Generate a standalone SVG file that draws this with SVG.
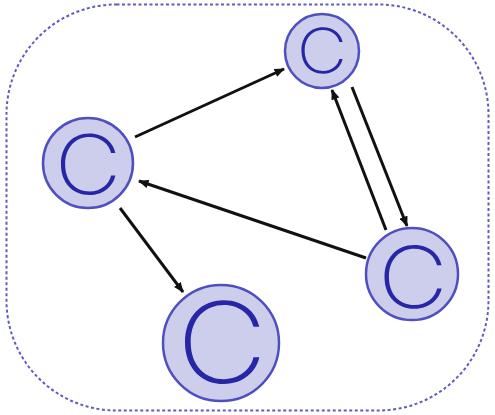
<svg xmlns="http://www.w3.org/2000/svg" width="495" height="415" viewBox="0 0 495 415">
<style>
.node circle{fill:#cdcdec;stroke:#4f4fc0;stroke-width:2.5}
.node text{font-family:Inter,Roboto,"Liberation Sans",sans-serif;font-weight:200;fill:#2626a6;text-anchor:middle}
.conn line{stroke:#111;stroke-width:3;marker-end:url(#ah)}
</style>
<defs>
<marker id="ah" viewBox="0 0 10 8" refX="9" refY="4" markerWidth="3.6" markerHeight="2.8" orient="auto" markerUnits="strokeWidth">
<path d="M0,0 L10,4 L0,8 z" fill="#111"/>
</marker>
</defs>
<rect id="boundary" x="6.5" y="4.5" width="482" height="406" rx="110" ry="110" fill="none" stroke="#5c5cc4" stroke-width="2" stroke-dasharray="3 2.5"/>
<g class="conn">
<line x1="135" y1="137" x2="284" y2="69"/>
<line x1="386" y1="230" x2="332" y2="90"/>
<line x1="352" y1="87" x2="407" y2="226"/>
<line x1="366" y1="258" x2="139" y2="181"/>
<line x1="120" y1="208" x2="183" y2="292"/>
</g>
<g id="n1" class="node"><circle cx="88" cy="163" r="45"/><text transform="translate(88,194) scale(1.12,1)" font-size="82">C</text></g>
<g id="n2" class="node"><circle cx="322" cy="51" r="37"/><text transform="translate(322,73) scale(1.12,1)" font-size="62">C</text></g>
<g id="n3" class="node"><circle cx="412" cy="274" r="46"/><text transform="translate(413,308) scale(1.12,1)" font-size="86">C</text></g>
<g id="n4" class="node"><circle cx="221" cy="343" r="58"/><text transform="translate(222,383) scale(1.12,1)" font-size="112">C</text></g>
</svg>
